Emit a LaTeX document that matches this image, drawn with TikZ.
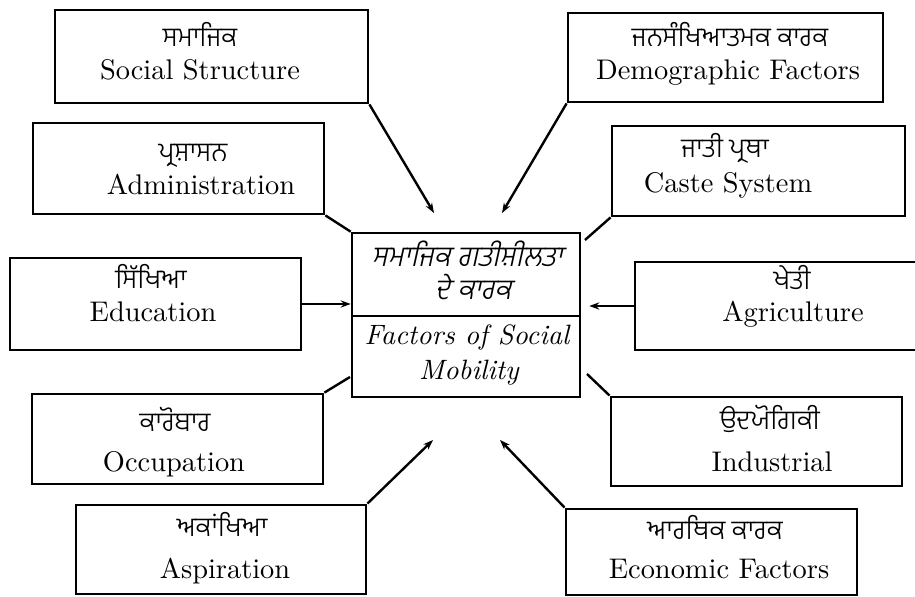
\documentclass[tikz,border=0pt]{standalone}
\usepackage{fontspec}
\setmainfont{lmroman10-regular.otf}[ItalicFont=lmroman10-italic.otf,BoldFont=lmroman10-bold.otf]
\IfFontExistsTF{Hind Jalandhar Light}{%
  \newfontfamily\gur[Script=Gurmukhi]{Hind Jalandhar Light}%
  \newfontfamily\gurit[Script=Gurmukhi,FakeSlant=0.22]{Hind Jalandhar Light}%
}{%
  \newfontfamily\gur[Script=Gurmukhi]{Hind Jalandhar}%
  \newfontfamily\gurit[Script=Gurmukhi,FakeSlant=0.22]{Hind Jalandhar}%
}
\usetikzlibrary{arrows.meta,fit}
\begin{document}
\begin{tikzpicture}[x=0.5pt,y=-0.5pt,
  box/.style={draw,line width=1.4pt,inner sep=0pt},
  en/.style={anchor=base,inner sep=0pt,font=\fontsize{14.2}{17}\selectfont},
  eni/.style={anchor=base,inner sep=0pt,font=\fontsize{14}{17}\selectfont\itshape},
  gu/.style={anchor=base,inner sep=0pt,text depth=0pt,font=\fontsize{13.6}{15}\gur},
  gui/.style={anchor=base,inner sep=0pt,text depth=0pt,font=\fontsize{14.4}{16}\gurit},
  con/.style={line width=1.2pt},
  arr/.style={con,-{Stealth[length=5pt,width=3.6pt]}}]
\clip (0,0) rectangle (915,597);
\fill[white] (0,0) rectangle (915,597);
% boxes
\node[box,fit={(55,10) (368,103)}] (ss) {};
\node[box,fit={(33,123) (324,214)}] (adm) {};
\node[box,fit={(10,258) (301,350)}] (edu) {};
\node[box,fit={(32,394) (323,484)}] (occ) {};
\node[box,fit={(76,505) (366,594)}] (asp) {};
\node[box,fit={(568,13) (883,102)}] (dem) {};
\node[box,fit={(612,126) (905,216)}] (cas) {};
\node[box,fit={(635,262) (940,350)}] (agr) {};
\node[box,fit={(611,397) (902,486)}] (ind) {};
\node[box,fit={(566,509) (857,595)}] (eco) {};
\node[box,line width=1.3pt,fit={(352,233) (580,397)}] (cb) {};
\coordinate (divL) at (352,316);
\draw[line width=1.3pt] (divL) -- (divL -| cb.east);
% texts
\node[gu] (ssG) at (200,47) {ਸਮਾਜਿਕ};
\node[en] (ssT) at (200,80) {Social Structure};
\node[gu] (admG) at (193,162) {ਪ੍ਰਸ਼ਾਸਨ};
\node[en] (admT) at (201,195) {Administration};
\node[gu] (eduG) at (151,289) {ਸਿੱਖਿਆ};
\node[en] (eduT) at (153,322) {Education};
\node[gu] (occG) at (175,432) {ਕਾਰੋਬਾਰ};
\node[en] (occT) at (174,472) {Occupation};
\node[gu] (aspG) at (222,537) {ਅਕਾਂਖਿਆ};
\node[en] (aspT) at (225,579) {Aspiration};
\node[gu] (demG) at (730,47) {ਜਨਸੰਖਿਆਤਮਕ ਕਾਰਕ};
\node[en] (demT) at (728,80) {Demographic Factors};
\node[gu] (casG) at (725,158) {ਜਾਤੀ ਪ੍ਰਥਾ};
\node[en] (casT) at (728,193) {Caste System};
\node[gu] (agrG) at (792,290) {ਖੇਤੀ};
\node[en] (agrT) at (793,322) {Agriculture};
\node[gu] (indG) at (770,430) {ਉਦਯੋਗਿਕੀ};
\node[en] (indT) at (772,472) {Industrial};
\node[gu] (ecoG) at (715,540) {ਆਰਥਿਕ ਕਾਰਕ};
\node[en] (ecoT) at (719,579) {Economic Factors};
\node[gui] (cbG1) at (467,267) {ਸਮਾਜਿਕ ਗਤੀਸ਼ੀਲਤਾ};
\node[gui] (cbG2) at (473,300) {ਦੇ ਕਾਰਕ};
\node[eni] (cbT1) at (467,345) {Factors of Social};
\node[eni] (cbT2) at (469,380) {Mobility};
% connectors
\coordinate (ssE) at (434,213);
\coordinate (demE) at (502,213);
\coordinate (casE) at (585,240);
\coordinate (occE) at (350,377);
\coordinate (indE) at (587,374);
\coordinate (aspE) at (433,440);
\coordinate (ecoE) at (500,440);
\draw[arr] (ss.south east) -- (ssE);
\draw[con] (adm.south east) -- (cb.north west);
\draw[arr] (edu.east) -- (edu.east -| cb.west);
\draw[arr] (dem.south west) -- (demE);
\draw[con] (cas.south west) -- (casE);
\draw[arr,shorten >=4pt] (agr.west) -- (agr.west -| cb.east);
\draw[con] (occ.north east) -- (occE);
\draw[con] (ind.north west) -- (indE);
\draw[arr] (asp.north east) -- (aspE);
\draw[arr] (eco.north west) -- (ecoE);
\end{tikzpicture}
\end{document}
